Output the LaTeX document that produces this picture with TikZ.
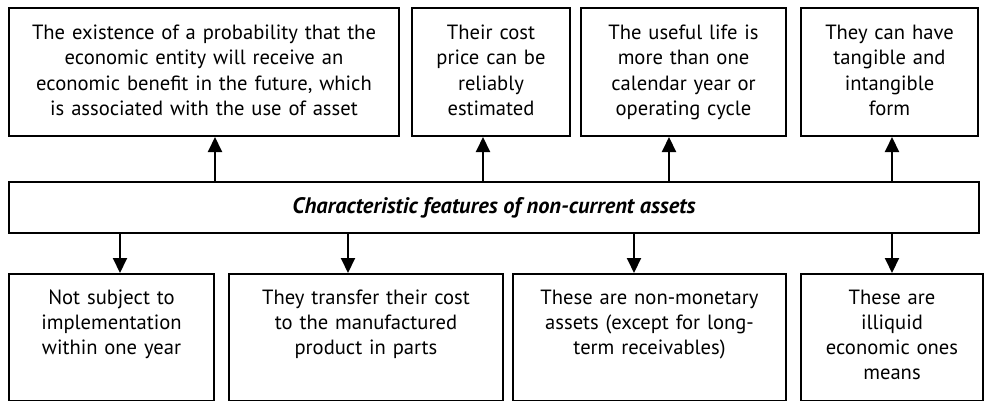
\documentclass[tikz,border=0pt]{standalone}
\usepackage{fontspec}
\setmainfont{PT Sans}
\usetikzlibrary{arrows.meta}

\begin{document}
\begin{tikzpicture}[x=1pt,y=1pt,font=\fontsize{10.3}{12.5}\selectfont,
	box/.style={draw,line width=1pt,align=center,inner sep=0pt},
	upper/.style={box,anchor=north,text height=16pt,text depth=48pt},
	lower/.style={box,anchor=north,text height=15pt,text depth=48.5pt},
	arr/.style={line width=1pt,-{Triangle[length=7.5pt,width=7pt]}}]
	\useasboundingbox (0,0) rectangle (492,-200.5);
	\node[upper,text width=195pt] (t1) at (102,-3.5) {The existence of a probability that the\\economic entity will receive an\\economic benefit in the future, which\\is associated with the use of asset};
	\node[upper,text width=79pt] (t2) at (245.5,-3.5) {Their cost\\price can be\\reliably\\estimated};
	\node[upper,text width=102.5pt] (t3) at (341.75,-3.5) {The useful life is\\more than one\\calendar year or\\operating cycle};
	\node[upper,text width=88.5pt] (t4) at (444.75,-3.5) {They can have\\tangible and\\intangible\\form};
	\node[box,minimum width=485pt,minimum height=25.5pt,font=\fontsize{11.2}{13}\selectfont\bfseries\itshape] (main) at (247,-103.75) {Characteristic features of non-current assets};
	\node[lower,text width=102.5pt] (b1) at (55.75,-136.5) {Not subject to\\implementation\\within one year};
	\node[lower,text width=137pt] (b2) at (183,-136.5) {They transfer their cost\\to the manufactured\\product in parts};
	\node[lower,text width=136.5pt] (b3) at (324.75,-136.5) {These are non-monetary\\assets (except for long-\\term receivables)};
	\node[lower,text width=91pt] (b4) at (446,-136.5) {These are\\illiquid\\economic ones\\means};
	\foreach \x/\n in {107.5/t1,241.5/t2,334.5/t3,446/t4} {
		\coordinate (u) at (\x,0);
		\draw[arr] (u |- main.north) -- (u |- \n.south);
	}
	\foreach \x/\n in {60/b1,174/b2,317/b3,446/b4} {
		\coordinate (d) at (\x,0);
		\draw[arr] (d |- main.south) -- (d |- \n.north);
	}
\end{tikzpicture}
\end{document}
